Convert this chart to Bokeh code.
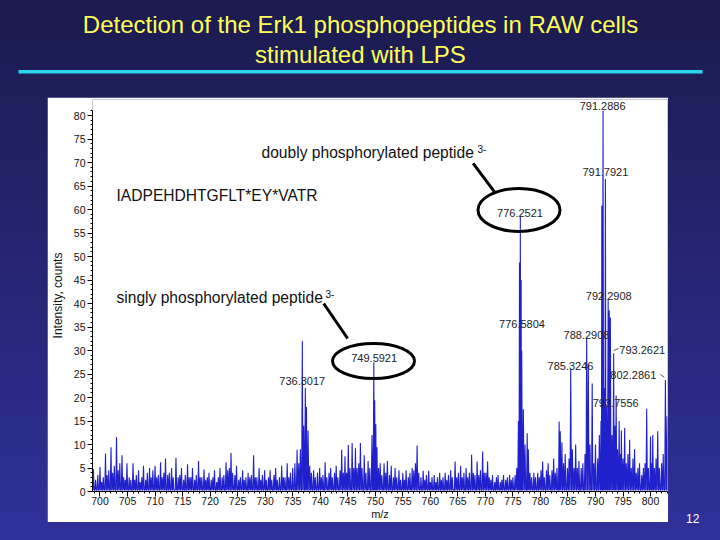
from bokeh.plotting import figure
from bokeh.layouts import column, row
from bokeh.models import Range1d, Label, BoxAnnotation, SingleIntervalTicker, Spacer, Div
from bokeh.embed import file_html
from bokeh.resources import INLINE

# ---------------- data ----------------
peak_mz = [
    698.8, 699.2, 699.6, 700.0, 700.3, 700.6, 701.0, 701.3, 701.6, 702.0, 702.3, 702.6, 703.0, 703.3, 703.6,
    704.0, 704.3, 704.6, 704.9, 705.3, 705.6, 706.0, 706.3, 706.6, 707.0, 707.3, 707.6, 707.9, 708.3, 708.6,
    709.0, 709.3, 709.6, 710.0, 710.3, 710.6, 711.0, 711.3, 711.6, 711.9, 712.3, 712.6, 713.0, 713.3, 713.8,
    714.2, 714.5, 714.8, 715.2, 715.5, 715.9, 716.2, 716.5, 716.8, 717.2, 717.5, 717.9, 718.2, 718.5, 718.9,
    719.2, 719.5, 719.8, 720.2, 720.5, 720.8, 721.2, 721.5, 721.8, 722.2, 722.5, 722.9, 723.2, 723.5, 723.8,
    724.1, 724.5, 724.8, 725.2, 725.5, 725.9, 726.2, 726.5, 726.9, 727.2, 727.5, 727.9, 728.2, 728.5, 728.9,
    729.2, 729.5, 729.9, 730.2, 730.6, 730.9, 731.2, 731.6, 731.9, 732.2, 732.6, 733.0, 733.3, 733.6, 734.0,
    734.3, 734.6, 735.0, 735.4, 735.8, 736.1, 736.4, 736.75, 737.0, 737.3, 737.5, 737.8, 738.1, 738.4, 738.8,
    739.1, 739.5, 739.9, 740.2, 740.5, 740.9, 741.2, 741.6, 741.9, 742.2, 742.6, 742.9, 743.2, 743.6, 743.9,
    744.2, 744.5, 744.8, 745.1, 745.4, 745.8, 746.1, 746.4, 746.7, 747.0, 747.3, 747.6, 748.0, 748.3, 748.7,
    749.0, 749.4, 749.74, 749.9, 750.1, 750.3, 750.6, 750.9, 751.2, 751.6, 751.9, 752.2, 752.6, 752.9, 753.3,
    753.6, 753.9, 754.3, 754.6, 755.0, 755.3, 755.6, 756.0, 756.3, 756.7, 757.0, 757.3, 757.6, 757.9, 758.3,
    758.7, 759.0, 759.3, 759.7, 760.0, 760.3, 760.7, 761.0, 761.3, 761.7, 762.0, 762.3, 762.7, 763.0, 763.3,
    763.7, 764.0, 764.5, 764.8, 765.1, 765.5, 765.8, 766.1, 766.5, 766.8, 767.1, 767.5, 767.8, 768.1, 768.5,
    768.8, 769.1, 769.5, 769.8, 770.1, 770.4, 770.7, 771.0, 771.3, 771.7, 772.0, 772.3, 772.7, 773.0, 773.3,
    773.7, 774.0, 774.4, 774.7, 775.0, 775.4, 775.7, 776.0, 776.2, 776.35, 776.5, 776.6, 776.9, 777.2, 777.6,
    777.8, 778.1, 778.4, 778.8, 779.1, 779.5, 779.8, 780.1, 780.4, 780.7, 781.1, 781.4, 781.7, 782.1, 782.4,
    782.7, 783.0, 783.4, 783.6, 783.9, 784.2, 784.5, 784.9, 785.2, 785.5, 785.8, 786.1, 786.4, 786.7, 787.0,
    787.4, 787.7, 788.1, 788.4, 788.7, 789.0, 789.4, 789.7, 790.0, 790.4, 790.7, 791.0, 791.15, 791.37, 791.6,
    791.8, 792.0, 792.3, 792.5, 792.7, 793.0, 793.3, 793.5, 793.75, 794.0, 794.3, 794.5, 794.7, 795.0, 795.3,
    795.6, 795.9, 796.2, 796.5, 796.8, 797.1, 797.4, 797.7, 798.0, 798.4, 798.7, 799.0, 799.3, 799.6, 800.0,
    800.2, 800.4, 800.7, 801.0, 801.3, 801.6, 802.0, 802.3, 802.7, 803.0,
]
peak_int = [
    4.8, 2.5, 3.5, 5.2, 2.0, 3.0, 8.1, 3.5, 4.5, 9.4, 4.0, 5.5, 11.6, 4.5, 6.0,
    7.7, 3.0, 2.5, 6.0, 3.0, 2.5, 6.0, 2.5, 3.5, 4.5, 2.0, 3.0, 5.5, 2.5, 4.0,
    5.0, 3.0, 4.5, 5.5, 3.0, 3.5, 6.2, 3.0, 4.0, 7.0, 3.5, 4.0, 5.0, 3.0, 7.2,
    3.0, 3.5, 5.0, 2.5, 3.5, 5.8, 3.0, 3.0, 5.0, 2.5, 3.5, 6.5, 3.0, 3.0, 4.7,
    2.5, 3.0, 4.0, 2.5, 3.0, 4.5, 2.0, 3.0, 5.0, 3.0, 3.5, 6.2, 4.5, 5.0, 8.2,
    4.0, 3.5, 5.5, 2.5, 3.0, 4.5, 2.5, 3.0, 4.0, 3.0, 3.5, 7.7, 3.0, 3.0, 5.0,
    2.5, 3.5, 4.5, 2.5, 3.0, 4.5, 2.5, 3.5, 5.0, 2.5, 3.0, 5.5, 3.0, 3.0, 6.0,
    3.0, 4.0, 5.0, 6.0, 8.9, 6.0, 9.0, 32.0, 14.0, 22.0, 18.0, 13.0, 5.5, 4.0, 4.5,
    3.0, 4.0, 5.0, 3.0, 3.5, 6.2, 3.0, 4.0, 5.0, 3.0, 4.0, 5.5, 3.0, 4.5, 8.9,
    4.0, 7.5, 4.0, 9.9, 5.0, 10.3, 5.0, 9.2, 5.0, 6.0, 10.3, 5.0, 7.7, 4.0, 6.5,
    5.0, 12.0, 27.5, 19.4, 14.3, 9.4, 5.0, 6.0, 3.5, 6.0, 4.0, 6.5, 3.5, 5.5, 3.0,
    5.0, 3.0, 4.5, 2.5, 4.0, 2.5, 4.5, 3.0, 4.0, 5.0, 4.5, 6.0, 9.8, 4.0, 3.0,
    4.4, 2.5, 3.5, 4.4, 2.0, 3.0, 3.5, 2.0, 3.0, 4.0, 2.5, 3.0, 4.0, 2.5, 3.5,
    4.5, 3.0, 6.4, 3.0, 4.0, 5.5, 3.0, 4.0, 5.0, 3.0, 4.0, 7.8, 4.0, 3.5, 6.4,
    3.5, 4.5, 8.5, 4.0, 4.0, 6.4, 3.0, 2.5, 3.5, 2.0, 3.0, 3.5, 2.0, 2.5, 3.5,
    2.5, 3.0, 3.5, 2.5, 3.0, 3.5, 5.0, 15.0, 48.7, 58.7, 45.0, 30.0, 17.5, 10.0, 12.4,
    9.0, 4.0, 3.0, 4.0, 3.0, 4.0, 3.0, 4.5, 6.4, 3.0, 4.5, 6.0, 3.5, 4.5, 7.0,
    4.0, 5.0, 14.9, 12.8, 10.5, 6.0, 8.0, 5.0, 7.0, 26.0, 9.0, 5.0, 10.0, 5.0, 6.5,
    5.0, 6.0, 8.0, 32.8, 27.0, 10.0, 23.0, 6.0, 10.0, 7.0, 12.0, 15.0, 60.8, 81.0, 22.0,
    66.5, 18.0, 41.0, 38.5, 37.0, 12.0, 29.4, 14.0, 20.4, 9.0, 15.0, 8.0, 13.0, 7.0, 13.5,
    6.0, 8.0, 11.0, 5.0, 7.0, 9.0, 4.0, 5.0, 6.0, 3.5, 5.0, 6.0, 17.6, 5.0, 11.7,
    6.0, 12.0, 5.0, 7.0, 12.8, 5.0, 6.0, 8.0, 23.7, 16.0,
]

label_text = ["791.2886", "791.7921", "776.2521", "792.2908", "776.5804", "788.2908",
              "793.2621", "785.3246", "802.2861", "793.7556", "749.5921", "736.3017"]
label_x = [791.3, 791.8, 776.29, 792.4, 776.65, 788.36, 798.5, 785.46, 796.87, 793.67, 749.8, 736.74]
label_y = [82.1, 67.9, 59.3, 41.7, 35.7, 33.2, 30.2, 26.8, 24.7, 18.8, 28.4, 23.5]

title_lines = ["Detection of the Erk1 phosphopeptides in RAW cells", "stimulated with LPS"]
slide_number = "12"
x_ticks_step = 5
y_ticks_step = 5

FONT = "Liberation Sans"


def blank_fig(w, h):
    f = figure(width=w, height=h, output_backend="svg", toolbar_location=None, title=None,
               x_range=Range1d(0, w), y_range=Range1d(0, h),
               x_axis_location=None, y_axis_location=None,
               min_border=0, min_border_left=0, min_border_right=0,
               min_border_top=0, min_border_bottom=0,
               background_fill_alpha=0, border_fill_alpha=0, outline_line_color=None)
    f.grid.visible = False
    return f


# ---------------- title strip ----------------
TW, TH = 704, 97
t = blank_fig(TW, TH)
for txt, ry in zip(title_lines, [24, 54]):
    t.add_layout(Label(x=360, y=TH - ry, x_units="screen", y_units="screen", text=txt,
                       text_align="center", text_baseline="middle", text_font=FONT,
                       text_font_size="24px", text_color="#ffff5a"))
t.add_layout(BoxAnnotation(left=18, right=702, top=TH - 69.5, bottom=TH - 73,
                           left_units="screen", right_units="screen",
                           top_units="screen", bottom_units="screen",
                           fill_color="#2fd3f2", fill_alpha=1, line_color=None))

# ---------------- chart panel ----------------
PX, PY, PW, PH = 47, 97, 621, 425          # white panel on the slide
FL, FR, FT, FB = 90, 667, 99, 491           # frame on the slide


def sx(rx):
    return rx - FL


def sy(ry):
    return FB - ry


ymax = 80 + (115 - FT) / 4.7
p = figure(width=PW, height=PH, output_backend="svg", toolbar_location=None,
           x_range=Range1d(698.64, 803.08), y_range=Range1d(0, ymax),
           min_border_left=FL - PX, min_border_right=PX + PW - FR,
           min_border_top=FT - PY, min_border_bottom=PY + PH - FB,
           background_fill_color="white", border_fill_color="white",
           outline_line_color=None)
p.grid.visible = False

xs, ys = [], []
base = 0.3
n = len(peak_mz)
for i, (m, h) in enumerate(zip(peak_mz, peak_int)):
    gl = (m - peak_mz[i - 1]) if i > 0 else 0.3
    gr = (peak_mz[i + 1] - m) if i < n - 1 else 0.3
    xs += [m - min(0.12, 0.45 * gl), m, m + min(0.12, 0.45 * gr)]
    ys += [base, h, base]
p.line(xs, ys, line_color="#2020cc", line_width=1.1)

for ax, step in [(p.xaxis, x_ticks_step), (p.yaxis, y_ticks_step)]:
    ax.ticker = SingleIntervalTicker(interval=step, num_minor_ticks=5)
    ax.axis_line_color = "black"
    ax.major_tick_line_color = "black"
    ax.minor_tick_line_color = "black"
    ax.major_tick_out = 5
    ax.major_tick_in = 0
    ax.minor_tick_out = 2
    ax.minor_tick_in = 0
    ax.major_label_text_font = FONT
    ax.major_label_text_font_size = "10.5px"
    ax.major_label_text_color = "#111111"
    ax.axis_label_text_font = FONT
    ax.axis_label_text_font_style = "normal"
    ax.axis_label_text_color = "#111111"
p.yaxis.bounds = (0, 80 + (115 - 110) / 4.7)
p.xaxis.axis_label = "m/z"
p.xaxis.axis_label_text_font_size = "11px"
p.xaxis.major_label_standoff = 0
p.xaxis.axis_label_standoff = 0
p.yaxis.axis_label = "Intensity, counts"
p.yaxis.axis_label_text_font_size = "12px"
p.yaxis.major_label_standoff = 2
p.yaxis.axis_label_standoff = 6

for txt, x, y in zip(label_text, label_x, label_y):
    p.add_layout(Label(x=x, y=y, text=txt, text_align="center", text_baseline="middle",
                       text_font=FONT, text_font_size="11px", text_color="#222222"))

p.segment(x0=[793.3, 801.8], y0=[30.0, 24.9], x1=[794.2, 802.5], y1=[30.4, 24.3],
          line_color="#555555", line_width=1)

p.ellipse(x=[776.11, 749.68], y=[59.9, 27.77], width=[82, 82], height=[43, 35],
          width_units="screen", height_units="screen",
          fill_color=None, line_color="black", line_width=3)
p.segment(x0=[767.78, 740.63], y0=[69.8, 40.0], x1=[771.76, 744.98], y1=[63.6, 32.55],
          line_color="black", line_width=3)

for txt, rx, ry in [("doubly phosphorylated peptide", 259, 152),
                    ("IADPEHDHTGFLT*EY*VATR", 114, 195),
                    ("singly phosphorylated peptide", 114, 297)]:
    p.add_layout(Label(x=sx(rx), y=sy(ry), x_units="screen", y_units="screen", text=txt,
                       text_align="left", text_baseline="middle", text_font=FONT,
                       text_font_size="15.6px", text_color="#111111"))
for rx, ry in [(475, 148), (323, 293)]:
    p.add_layout(Label(x=sx(rx), y=sy(ry), x_units="screen", y_units="screen", text="3-",
                       text_align="left", text_baseline="middle", text_font=FONT,
                       text_font_size="10px", text_color="#111111"))

# ---------------- slide number ----------------
NW = 704 - PX - PW
num = Div(text=('<div style="position:absolute; left:13px; top:410px; color:white; '
                'font-size:12px; line-height:14px; font-family:\'Liberation Sans\', sans-serif;">'
                + slide_number + '</div>'),
          width=NW, height=PH, styles={"position": "relative"})

layout = column(t, row(Spacer(width=PX, height=PH), p, num, spacing=0), spacing=0)

try:
    from bokeh.models import GlobalInlineStyleSheet
    layout.stylesheets = [GlobalInlineStyleSheet(
        css="html, body { background: linear-gradient(#1b1b4e, #30309a); min-height: 100%; }")]
except Exception:
    pass

open("out.html", "w").write(file_html(layout, INLINE))
